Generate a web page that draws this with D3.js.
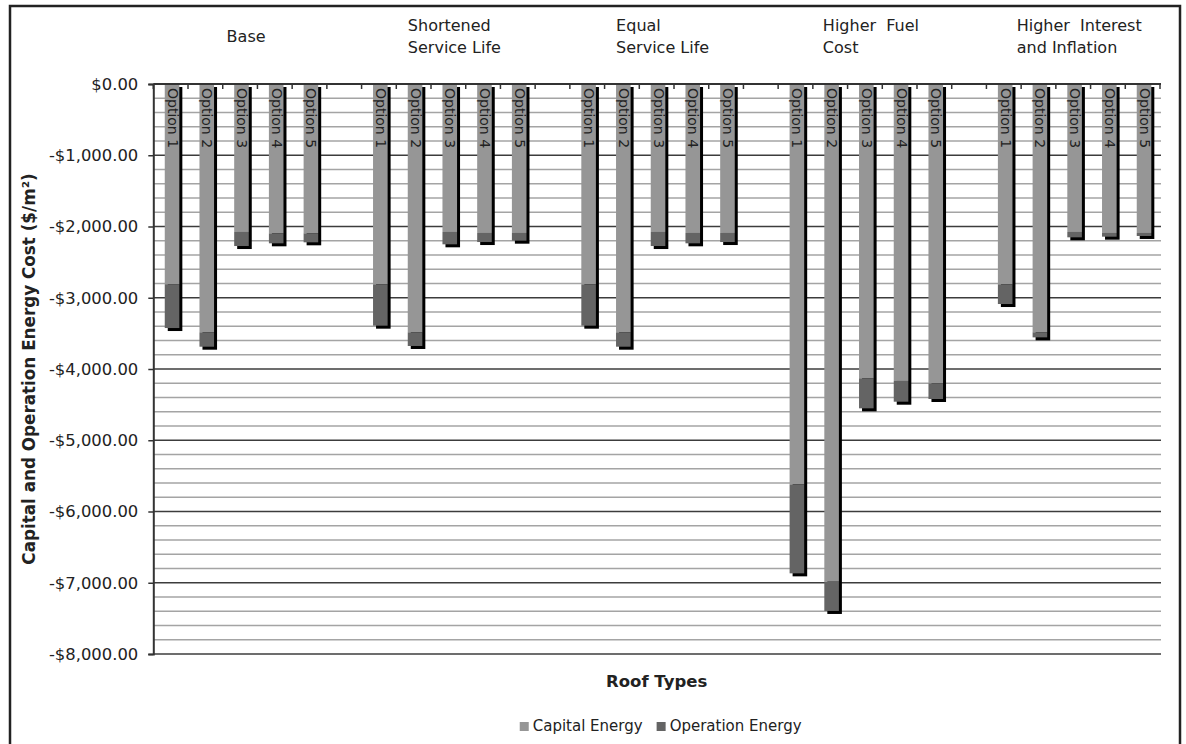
<!DOCTYPE html>
<html>
<head>
<meta charset="utf-8">
<script src="https://cdn.jsdelivr.net/npm/d3@7/dist/d3.min.js"></script>
<style>
  html, body { margin: 0; padding: 0; background: #fff; }
  svg { display: block; font-family: "DejaVu Sans", Verdana, sans-serif; }
</style>
</head>
<body>
<svg id="chart" width="1186" height="744"></svg>
<script>
// Scenario groups (each label split into its printed lines)
const groupLines = [
  ["Base"],
  ["Shortened", "Service Life"],
  ["Equal", "Service Life"],
  ["Higher  Fuel", "Cost"],
  ["Higher  Interest", "and Inflation"]
];
const options = ["Option 1", "Option 2", "Option 3", "Option 4", "Option 5"];

// Capital energy cost per roof option ($/m²), one array per scenario
const capitalBase       = [-2810, -3485, -2077, -2096, -2096];
const capitalShortened  = [-2812, -3485, -2077, -2091, -2091];
const capitalEqual      = [-2812, -3485, -2077, -2091, -2091];
const capitalFuel       = [-5619, -6985, -4130, -4168, -4203];
const capitalInterest   = [-2812, -3485, -2077, -2091, -2091];

// Operation energy cost per roof option ($/m²)
const operationBase      = [-615, -202, -197, -140, -126];
const operationShortened = [-580, -192, -173, -127, -108];
const operationEqual     = [-580, -202, -197, -145, -127];
const operationFuel      = [-1249, -411, -422, -291, -218];
const operationInterest  = [-276, -71, -75, -52, -42];

const capital = [capitalBase, capitalShortened, capitalEqual, capitalFuel, capitalInterest];
const operation = [operationBase, operationShortened, operationEqual, operationFuel, operationInterest];

const yTicks = [0, -1000, -2000, -3000, -4000, -5000, -6000, -7000, -8000];
const seriesNames = ["Capital Energy", "Operation Energy"];
const seriesColors = ["#969696", "#646464"];

const svg = d3.select("#chart");
const plotLeft = 153.3, plotRight = 1160, plotTop = 84, plotBottom = 654;

// Outer frame
svg.append("rect")
  .attr("x", 10).attr("y", 6).attr("width", 1170).attr("height", 760)
  .attr("fill", "none").attr("stroke", "#222").attr("stroke-width", 2.5);

// One slot per option, with an empty slot between scenarios
const slots = [];
groupLines.forEach((g, gi) => {
  if (gi > 0) slots.push("gap" + gi);
  options.forEach((o, oi) => slots.push(gi + "-" + oi));
});
const x = d3.scaleBand().domain(slots).range([plotLeft, plotRight]).paddingInner(0).paddingOuter(0);
const bw = x.bandwidth();
const y = d3.scaleLinear().domain([0, -8000]).range([plotTop, plotBottom]);

// Gridlines: minor every 200, major every 1000
const grid = svg.append("g");
const minor = d3.range(-200, -8000, -200).filter(v => v % 1000 !== 0);
grid.selectAll(".minor").data(minor).join("line")
  .attr("x1", plotLeft).attr("x2", plotRight + 1)
  .attr("y1", d => y(d)).attr("y2", d => y(d))
  .attr("stroke", "#a4a4a4").attr("stroke-width", 1.4);
grid.selectAll(".major").data(yTicks.filter(v => v !== 0)).join("line")
  .attr("x1", plotLeft).attr("x2", plotRight + 1)
  .attr("y1", d => y(d)).attr("y2", d => y(d))
  .attr("stroke", "#3c3c3c").attr("stroke-width", 1.4);

// Y axis
const fmt = d3.format(",.2f");
const yAxis = d3.axisLeft(y).tickValues(yTicks).tickSize(5).tickPadding(10)
  .tickFormat(d => (d < 0 ? "-$" : "$") + fmt(Math.abs(d)));
const yg = svg.append("g").attr("transform", `translate(${plotLeft},0)`).call(yAxis);
yg.select(".domain").attr("stroke", "#333").attr("stroke-width", 2);
yg.selectAll(".tick line").attr("stroke", "#333").attr("stroke-width", 1.5);
yg.selectAll(".tick text").attr("fill", "#222").attr("font-size", 16.4)
  .attr("font-family", "DejaVu Sans, Verdana, sans-serif");

// Bars
const bars = [];
capital.forEach((arr, gi) => arr.forEach((c, oi) => {
  bars.push({ gi, oi, key: gi + "-" + oi, cap: c, op: operation[gi][oi] });
}));
const barX = d => x(d.key) + bw * 0.33;
const barW = bw * 0.42;

const barG = svg.append("g");
// drop shadow behind each stacked column
barG.selectAll(".shadow").data(bars).join("rect")
  .attr("x", d => barX(d) + 3)
  .attr("y", y(0) + 3)
  .attr("width", barW)
  .attr("height", d => y(d.cap + d.op) - y(0))
  .attr("fill", "#000");
barG.selectAll(".cap").data(bars).join("rect")
  .attr("x", barX)
  .attr("y", y(0))
  .attr("width", barW)
  .attr("height", d => y(d.cap) - y(0))
  .attr("fill", seriesColors[0]);
barG.selectAll(".op").data(bars).join("rect")
  .attr("x", barX)
  .attr("y", d => y(d.cap))
  .attr("width", barW)
  .attr("height", d => y(d.cap + d.op) - y(d.cap))
  .attr("fill", seriesColors[1]);

// X axis along zero with tick marks at slot boundaries
svg.append("line")
  .attr("x1", plotLeft).attr("x2", plotRight + 1).attr("y1", y(0)).attr("y2", y(0))
  .attr("stroke", "#333").attr("stroke-width", 2);
const bounds = d3.range(0, slots.length + 1).map(i => plotLeft + i * bw);
svg.selectAll(".xtick").data(bounds).join("line")
  .attr("x1", d => d).attr("x2", d => d)
  .attr("y1", y(0)).attr("y2", y(0) + 5)
  .attr("stroke", "#333").attr("stroke-width", 1.5);

// Option labels, rotated, inside the columns
svg.selectAll(".optlabel").data(bars).join("text")
  .attr("transform", d => `translate(${barX(d) + barW / 2},${y(0) + 4}) rotate(90)`)
  .attr("dy", "0.32em")
  .attr("font-size", 14)
  .attr("fill", "#222")
  .text(d => options[d.oi]);

// Scenario labels above the plot
groupLines.forEach((lines, gi) => {
  const cx = (x(gi + "-0") + x(gi + "-4") + bw) / 2 + 6;
  const t = svg.append("text")
    .attr("font-size", 16).attr("fill", "#222")
    .style("white-space", "pre");
  const y0 = lines.length === 1 ? 41.5 : 30.5;
  lines.forEach((ln, li) => {
    t.append("tspan").attr("y", y0 + li * 22).attr("x", 0).text(ln);
  });
  const w = t.node().getBBox().width;
  t.selectAll("tspan").attr("x", cx - w / 2);
});

// Axis titles
svg.append("text")
  .attr("transform", `translate(35,${(plotTop + plotBottom) / 2}) rotate(-90)`)
  .attr("text-anchor", "middle")
  .attr("font-size", 16.8).attr("font-weight", "bold").attr("fill", "#222")
  .text("Capital and Operation Energy Cost ($/m²)");
svg.append("text")
  .attr("x", (plotLeft + plotRight) / 2).attr("y", 687)
  .attr("text-anchor", "middle")
  .attr("font-size", 16.5).attr("font-weight", "bold").attr("fill", "#222")
  .text("Roof Types");

// Legend
const legend = svg.append("g");
let lx = 0;
seriesNames.forEach((name, i) => {
  const item = legend.append("g").attr("transform", `translate(${lx},0)`);
  item.append("rect").attr("x", 0).attr("y", -9).attr("width", 9).attr("height", 9)
    .attr("fill", seriesColors[i]);
  const txt = item.append("text").attr("x", 13).attr("y", 0)
    .attr("font-size", 15).attr("fill", "#222").text(name);
  lx += 13 + txt.node().getComputedTextLength() + 14;
});
const lw = lx - 14;
legend.attr("transform", `translate(${(plotLeft + plotRight) / 2 - lw / 2 + 4},731)`);
</script>
</body>
</html>
